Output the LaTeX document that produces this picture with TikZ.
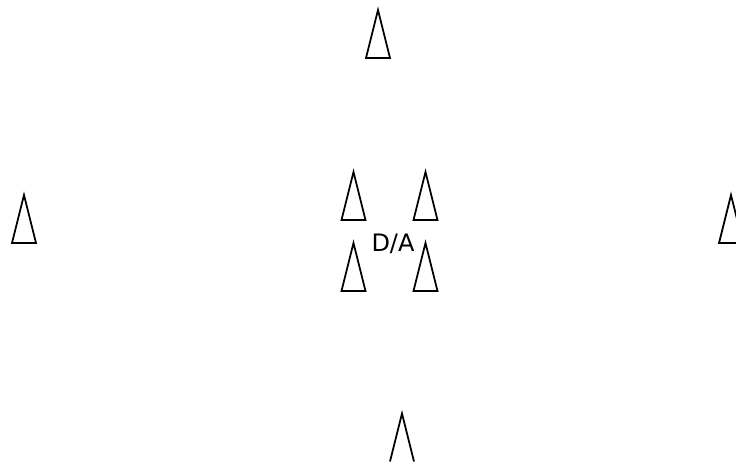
\documentclass[tikz,border=0pt]{standalone}
\usepackage{fontspec}
\setmainfont{DejaVu Sans}
\begin{document}
\begin{tikzpicture}[x=1pt,y=-1pt,
  conestyle/.style={draw=black,line width=1.8pt,line join=miter},
  cone/.pic={\draw[conestyle] (-12,48) -- (0,0) -- (12,48) -- cycle;},
  opencone/.pic={\draw[conestyle] (-12,48) -- (0,0) -- (12,48);},
  lbl/.style={font=\fontsize{24}{28}\selectfont,inner sep=0pt,anchor=base}]
\useasboundingbox (0,0) rectangle (736,461);
\pic at (378,10) {cone};
\pic at (24,195) {cone};
\pic at (731,195) {cone};
\pic at (353.5,172) {cone};
\pic at (425.5,172) {cone};
\pic at (353.5,243) {cone};
\pic at (425.5,243) {cone};
\pic at (402,413.5) {opencone};
\node[lbl] (da) at (393,251) {D/A};
\end{tikzpicture}
\end{document}
